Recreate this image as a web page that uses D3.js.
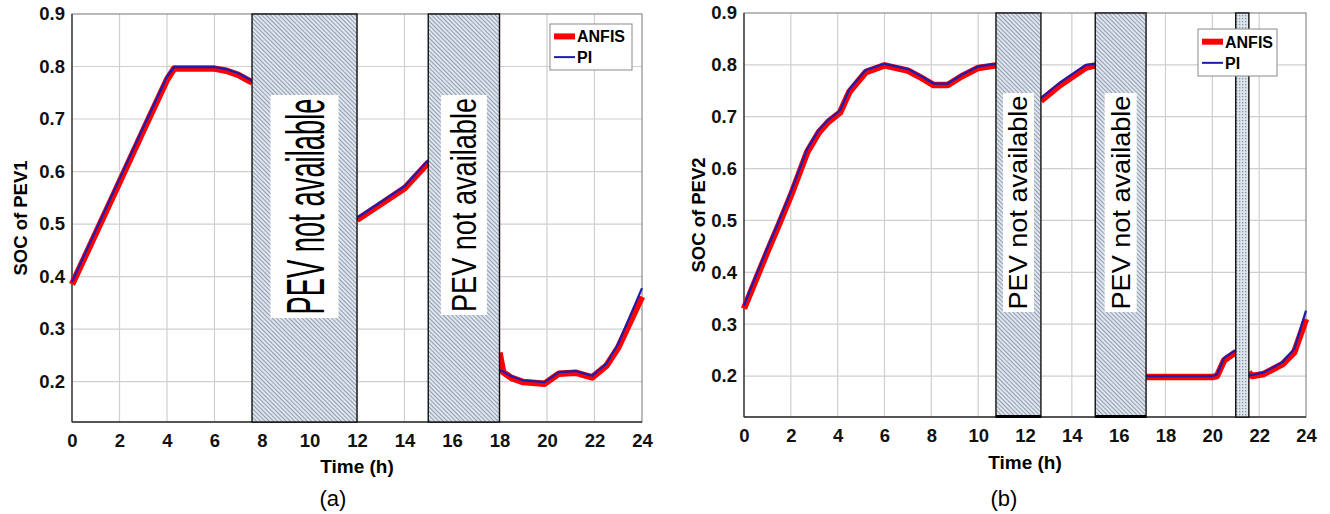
<!DOCTYPE html>
<html><head><meta charset="utf-8">
<script src="https://cdn.jsdelivr.net/npm/d3@7/dist/d3.min.js"></script>
<style>
html,body{margin:0;padding:0;background:#fff;}
svg{display:block;}
text{font-family:"Liberation Sans",Arial,sans-serif;}
</style></head>
<body>
<svg id="c" width="1330" height="514"></svg>
<script>
// ---------- data ----------
const xTicks = [0,2,4,6,8,10,12,14,16,18,20,22,24];
const yTicks = [0.2,0.3,0.4,0.5,0.6,0.7,0.8,0.9];

// PEV1 (panel a) – null marks a gap (PEV not available)
const hours1 = [0,1,2,3,4,4.3,5,6,6.5,7,7.58, 9, 12,13,14,15, 16.5, 18,18.15,18.5,19,19.9,20.5,21.2,21.9,22.5,23,24];
const anfis1 = [0.385,0.482,0.58,0.678,0.775,0.796,0.796,0.796,0.792,0.784,0.77, null, 0.508,0.538,0.568,0.617, null, 0.255,0.218,0.207,0.199,0.196,0.215,0.217,0.208,0.23,0.265,0.362];
const pi1    = [0.39,0.488,0.586,0.684,0.781,0.799,0.799,0.799,0.795,0.787,0.773, null, 0.512,0.542,0.572,0.622, null, 0.222,0.219,0.21,0.202,0.199,0.218,0.22,0.211,0.234,0.272,0.378];
const gaps1 = [[7.58,12],[15,18]];

// PEV2 (panel b)
const hours2 = [0,0.5,1,1.5,2,2.7,3.2,3.6,4.1,4.5,5.2,6,7,7.5,8.1,8.7,9.3,10,10.76, 11.5, 12.68,13.5,14.6,15, 16, 17.17,20,20.2,20.5,21, 21.3, 21.56,21.7,22.2,23,23.5,24];
const anfis2 = [0.33,0.385,0.44,0.493,0.548,0.632,0.67,0.69,0.708,0.748,0.786,0.799,0.789,0.777,0.761,0.761,0.778,0.794,0.799, null, 0.731,0.761,0.795,0.799, null, 0.198,0.198,0.2,0.23,0.246, null, 0.207,0.2,0.204,0.223,0.246,0.31];
const pi2    = [0.336,0.392,0.447,0.5,0.555,0.638,0.675,0.694,0.712,0.753,0.79,0.802,0.792,0.78,0.764,0.764,0.781,0.797,0.802, null, 0.736,0.766,0.8,0.802, null, 0.2,0.2,0.203,0.235,0.25, null, 0.201,0.202,0.207,0.227,0.252,0.326];
const gaps2 = [[10.76,12.68],[15,17.17],[21.0,21.56]];

const seriesNames = ["ANFIS","PI"];
const seriesColors = ["#ff0000","#1c1cb0"];
const boxLabel = "PEV not available";

// ---------- drawing ----------
const svg = d3.select("#c");
const defs = svg.append("defs");
function hatch(id, bg, fg, size, rot){
  const p = defs.append("pattern").attr("id",id).attr("patternUnits","userSpaceOnUse")
    .attr("width",size).attr("height",size).attr("patternTransform",`rotate(${rot})`);
  p.append("rect").attr("width",size).attr("height",size).attr("fill",bg);
  p.append("line").attr("x1",0).attr("y1",0).attr("x2",0).attr("y2",size)
    .attr("stroke",fg).attr("stroke-width",1.2);
}
hatch("h1","#dfe5ec","#5d6d88",3,-45);
function dots(id){
  const p = defs.append("pattern").attr("id",id).attr("patternUnits","userSpaceOnUse").attr("width",3).attr("height",3);
  p.append("rect").attr("width",3).attr("height",3).attr("fill","#dde4ec");
  p.append("rect").attr("width",1.3).attr("height",1.3).attr("fill","#8596ad");
}
dots("d1");

const FS = 18.5;
function panel(cfg){
  const x = d3.scaleLinear().domain([0,24]).range([cfg.x0,cfg.x1]);
  const y = d3.scaleLinear().domain([cfg.ymin,0.9]).range([cfg.y1,cfg.y0]);
  const g = svg.append("g");
  // grid
  g.append("g").selectAll("line").data(xTicks.slice(1,-1)).join("line")
    .attr("x1",d=>x(d)).attr("x2",d=>x(d)).attr("y1",cfg.y0).attr("y2",cfg.y1)
    .attr("stroke","#cfcfcf").attr("stroke-width",1.2);
  g.append("g").selectAll("line").data(yTicks.slice(0,-1)).join("line")
    .attr("y1",d=>y(d)).attr("y2",d=>y(d)).attr("x1",cfg.x0).attr("x2",cfg.x1)
    .attr("stroke","#cfcfcf").attr("stroke-width",1.2);
  // frame
  g.append("rect").attr("x",cfg.x0).attr("y",cfg.y0).attr("width",cfg.x1-cfg.x0).attr("height",cfg.y1-cfg.y0)
    .attr("fill","none").attr("stroke","#8c8c8c").attr("stroke-width",1.2);
  g.append("line").attr("x1",cfg.x0).attr("x2",cfg.x0).attr("y1",cfg.y0).attr("y2",cfg.y1).attr("stroke","#333").attr("stroke-width",1.3);
  g.append("line").attr("x1",cfg.x0).attr("x2",cfg.x1).attr("y1",cfg.y1).attr("y2",cfg.y1).attr("stroke","#333").attr("stroke-width",1.3);
  // axes labels via d3 axes
  const ax = g.append("g").attr("transform",`translate(0,${cfg.y1})`)
    .call(d3.axisBottom(x).tickValues(xTicks).tickSize(0).tickPadding(12).tickFormat(d3.format("d")));
  ax.select(".domain").remove();
  ax.selectAll("text").attr("font-size",FS).attr("font-weight","bold").attr("fill","#111")
    .attr("font-family","Liberation Sans, Arial, sans-serif");
  const ay = g.append("g").attr("transform",`translate(${cfg.x0},0)`)
    .call(d3.axisLeft(y).tickValues(yTicks).tickSize(0).tickPadding(7).tickFormat(d3.format(".1f")));
  ay.select(".domain").remove();
  ay.selectAll("text").attr("font-size",FS).attr("font-weight","bold").attr("fill","#111")
    .attr("font-family","Liberation Sans, Arial, sans-serif");
  // lines
  const ln = d3.line().defined(d=>d[1]!==null).x(d=>x(d[0])).y(d=>y(d[1]));
  g.append("path").datum(cfg.hours.map((h,i)=>[h,cfg.anfis[i]])).attr("d",ln)
    .attr("fill","none").attr("stroke",seriesColors[0]).attr("stroke-width",6.5).attr("stroke-linejoin","round");
  g.append("path").datum(cfg.hours.map((h,i)=>[h,cfg.pi[i]])).attr("d",ln)
    .attr("fill","none").attr("stroke",seriesColors[1]).attr("stroke-width",2.2).attr("stroke-linejoin","round");
  // unavailable boxes
  cfg.gaps.forEach((gp,i)=>{
    const bx = x(gp[0]), bw = x(gp[1])-x(gp[0]);
    g.append("rect").attr("x",bx).attr("y",cfg.y0).attr("width",bw).attr("height",cfg.y1-cfg.y0)
      .attr("fill",cfg.fills[i]).attr("stroke","#111").attr("stroke-width",1.4);
    if(cfg.thickBottom && i<2){
      g.append("line").attr("x1",bx).attr("x2",bx+bw).attr("y1",cfg.y1-0.5).attr("y2",cfg.y1-0.5)
        .attr("stroke","#000").attr("stroke-width",3);
    }
    const lab = cfg.labels[i];
    if(lab){
      const cx = bx + bw/2 + (lab.dx||0);
      g.append("rect").attr("x",cx-lab.w/2).attr("y",lab.top).attr("width",lab.w).attr("height",lab.bottom-lab.top)
        .attr("fill","#fff");
      const mid = (lab.top+lab.bottom)/2;
      const t = g.append("text").attr("text-anchor","middle").attr("font-size",lab.fs).attr("fill","#000")
        .attr("font-family",lab.font).text(boxLabel);
      const nat = t.node().getComputedTextLength();
      t.attr("transform",`translate(${cx+lab.fs*0.36},${mid}) rotate(-90) scale(${lab.len/nat},1)`);
    }
  });
  // axis titles
  svg.append("text").attr("transform",`translate(${cfg.ylabX},${(cfg.y0+cfg.y1)/2}) rotate(-90)`)
    .attr("text-anchor","middle").attr("font-size",18.5).attr("font-weight","bold").text(cfg.ylab);
  svg.append("text").attr("x",(cfg.x0+cfg.x1)/2).attr("y",cfg.xlabY)
    .attr("text-anchor","middle").attr("font-size",19).attr("font-weight","bold").text("Time (h)");
  svg.append("text").attr("x",cfg.capX).attr("y",506)
    .attr("text-anchor","middle").attr("font-size",22).attr("font-family","Liberation Serif, Times New Roman, serif").text(cfg.cap);
  // legend
  const L = cfg.leg;
  const lg = svg.append("g");
  lg.append("rect").attr("x",L.x).attr("y",L.y).attr("width",L.w).attr("height",L.h)
    .attr("fill","#fff").attr("stroke","#8a8a8a").attr("stroke-width",1);
  seriesNames.forEach((n,i)=>{
    const yy = L.y + L.h*(i===0?0.27:0.72);
    lg.append("line").attr("x1",L.x+4).attr("x2",L.x+25).attr("y1",yy).attr("y2",yy)
      .attr("stroke",seriesColors[i]).attr("stroke-width",i===0?6:2);
    lg.append("text").attr("x",L.x+27).attr("y",yy+6).attr("font-size",16).attr("font-weight","bold").text(n);
  });
}

panel({x0:72,x1:642,y0:14,y1:422,ymin:0.123,hours:hours1,anfis:anfis1,pi:pi1,gaps:gaps1,
  fills:["url(#h1)","url(#h1)"],thickBottom:false,
  labels:[{w:68,top:95,bottom:318,fs:54,len:216,font:"Liberation Sans Narrow, Liberation Sans, sans-serif"},
          {w:46,top:95,bottom:315,fs:35,len:214,font:"Liberation Sans Narrow, Liberation Sans, sans-serif"}],
  ylab:"SOC of PEV1",ylabX:27,xlabY:473,cap:"(a)",capX:333,
  leg:{x:550,y:24,w:82,h:46}});

panel({x0:744,x1:1306,y0:13,y1:417,ymin:0.121,hours:hours2,anfis:anfis2,pi:pi2,gaps:gaps2,
  fills:["url(#h1)","url(#h1)","url(#d1)"],thickBottom:true,
  labels:[{w:31,top:93,bottom:312,fs:25,len:214,font:"Open Sans, sans-serif"},
          {w:32,top:93,bottom:312,fs:25,len:214,font:"Open Sans, sans-serif"},null],
  ylab:"SOC of PEV2",ylabX:705,xlabY:469,cap:"(b)",capX:1004,
  leg:{x:1198,y:29,w:79,h:47}});
</script>
</body></html>
